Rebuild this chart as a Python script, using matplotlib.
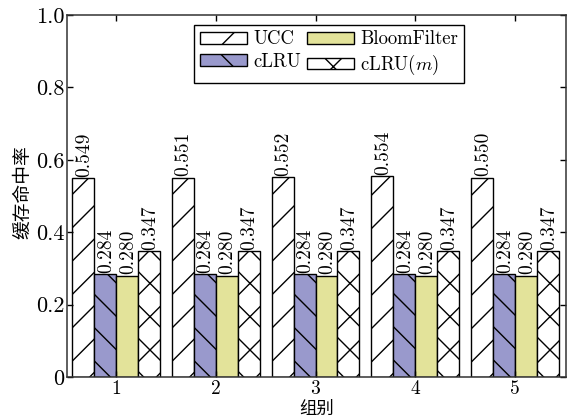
import numpy as np
import matplotlib
matplotlib.use('Agg')
import matplotlib.pyplot as plt

# data
groups = ['1', '2', '3', '4', '5']
ucc = [0.549, 0.551, 0.552, 0.554, 0.550]
clru = [0.284, 0.284, 0.284, 0.284, 0.284]
bloom = [0.280, 0.280, 0.280, 0.280, 0.280]
clru_m = [0.347, 0.347, 0.347, 0.347, 0.347]
series_names = ['UCC', 'cLRU', 'BloomFilter', 'cLRU($m$)']
y_ticks = [0, 0.2, 0.4, 0.6, 0.8, 1.0]
y_tick_labels = ['0', '0.2', '0.4', '0.6', '0.8', '1.0']

plt.rcParams['font.family'] = ['cmr10', 'Noto Sans CJK SC']
plt.rcParams['mathtext.fontset'] = 'cm'
plt.rcParams['axes.formatter.use_mathtext'] = True
plt.rcParams['hatch.linewidth'] = 1.0

dpi = 100
fig = plt.figure(figsize=(577 / dpi, 420 / dpi), dpi=dpi)
ax = fig.add_axes([67 / 577, 1 - 377 / 420, (566 - 67) / 577, (377 - 15) / 420])

x = np.arange(1, len(groups) + 1)
w = 0.22
styles = [
    dict(color='white', hatch='/'),
    dict(color='#9999cc', hatch='\\'),
    dict(color='#e3e39a', hatch=''),
    dict(color='white', hatch='x'),
]
all_vals = [ucc, clru, bloom, clru_m]
for i, (vals, name, st) in enumerate(zip(all_vals, series_names, styles)):
    pos = x + (i - 1.5) * w
    ax.bar(pos, vals, w, facecolor=st['color'], hatch=st['hatch'],
           edgecolor='black', linewidth=1.0, label=name)
    for px, v in zip(pos, vals):
        ax.text(px + 0.01, v + 0.004, '%.3f' % v, rotation=90, ha='center', va='bottom',
                fontsize=14)

ax.set_xlim(0.51, 5.51)
ax.set_ylim(0, 1.0)
ax.set_xticks(x)
ax.set_xticklabels(groups, fontsize=14)
ax.set_yticks(y_ticks)
ax.set_yticklabels(y_tick_labels, fontsize=16)
ax.tick_params(direction='in', top=True, right=True, length=4, width=1)
ax.tick_params(axis='x', pad=2)
ax.tick_params(axis='y', pad=2)
for s in ax.spines.values():
    s.set_linewidth(1.1)
    s.set_color('#333333')

ax.set_xlabel('组别', fontsize=12.5, family='Noto Sans CJK SC', va='center')
ax.xaxis.set_label_coords(0.5, -0.087)
ax.set_ylabel('缓存命中率', fontsize=13.5, family='Noto Sans CJK SC')
ax.yaxis.set_label_coords(-0.068, 0.51)

leg = ax.legend(ncol=2, loc='upper left', bbox_to_anchor=(0.255, 0.973),
                borderaxespad=0, fancybox=False, framealpha=1, edgecolor='black',
                fontsize=13.5, handlelength=2.5, handleheight=0.6,
                columnspacing=0.3, handletextpad=0.35, labelspacing=0.25,
                borderpad=0.3)
leg.get_frame().set_linewidth(1.0)

fig.savefig('out.png', dpi=dpi)
